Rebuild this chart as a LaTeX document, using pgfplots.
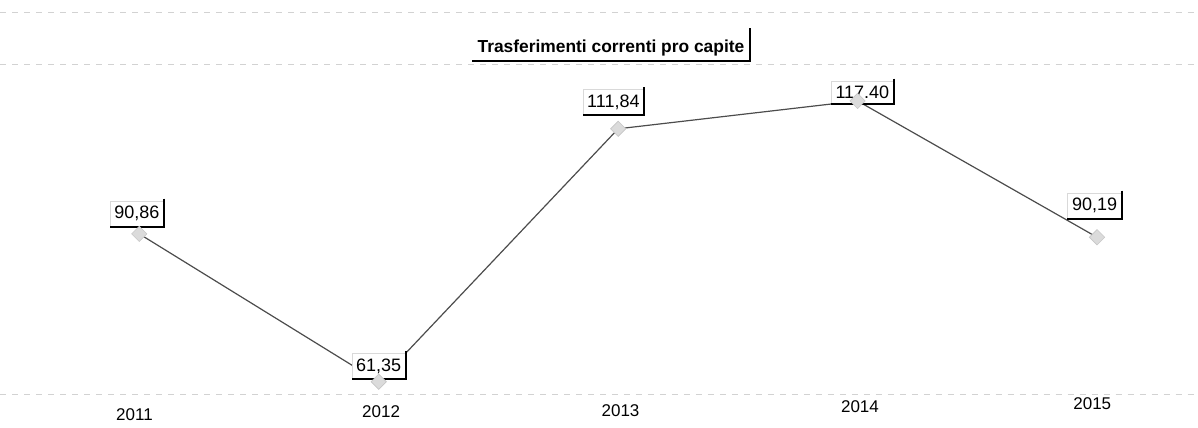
\documentclass[border=0pt]{standalone}
\usepackage{pgfplots}
\pgfplotsset{compat=1.18}
\usepackage{fontspec}
\setmainfont{Liberation Sans}
\begin{document}
\begin{tikzpicture}[
  vlab/.style={fill=white, draw=gray!30, line width=0.3pt, inner xsep=2.2pt, inner ysep=2.6pt, font=\fontsize{9}{10}\selectfont},
  ylab/.style={font=\fontsize{8.5}{9}\selectfont, inner sep=0pt}]
\begin{axis}[
  at={(0,0)}, anchor=south west,
  width=599pt, height=214pt, scale only axis,
  xmin=2010.42, xmax=2015.42,
  ymin=52.17, ymax=137.55,
  axis line style={draw=none},
  xtick=\empty,
  ytick={58.76,124.6,135.16}, yticklabels={},
  yticklabel style={overlay},
  major tick length=0pt,
  ymajorgrids, grid style={gray!35, dashed, line width=0.4pt},
  clip=false,
]
\addplot[color=black!70, line width=0.6pt, mark=square*, mark size=2.7pt,
  mark options={rotate=45, fill=gray!28, draw=gray!45, line width=0.3pt}]
  coordinates {(2011,90.86) (2012,61.35) (2013,111.84) (2014,117.40) (2015,90.19)};

% value labels
\node[vlab] (a) at (axis cs:2010.99,94.9) {90,86};
\node[vlab] (b) at (axis cs:2012.00,64.5) {61,35};
\node[vlab] (c) at (axis cs:2012.98,117.2) {111,84};
\node[vlab] (d) at (axis cs:2014.02,119.1) {117.40};
\node[vlab] (e) at (axis cs:2014.99,96.5) {90,19};
\draw[black, line width=1pt] ([yshift=1pt]a.north east) -- (a.south east) -- (a.south west);
\draw[black, line width=1pt] ([yshift=1pt]b.north east) -- (b.south east) -- (b.south west);
\draw[black, line width=1pt] ([yshift=1pt]c.north east) -- (c.south east) -- (c.south west);
\draw[black, line width=1pt] ([yshift=1pt]d.north east) -- (d.south east) -- (d.south west);
\draw[black, line width=1pt] ([yshift=1pt]e.north east) -- (e.south east) -- (e.south west);

% title
\node[fill=white, inner xsep=2.5pt, inner ysep=2.5pt, font=\bfseries\fontsize{8.7}{10}\selectfont] (t) at (axis cs:2012.97,128.0) {Trasferimenti correnti pro capite};
\draw[black, line width=1pt] ([yshift=3pt]t.north east) -- (t.south east) -- (t.south west);

% year labels
\node[ylab] at (axis cs:2010.98,54.77) {2011};
\node[ylab] at (axis cs:2012.01,55.37) {2012};
\node[ylab] at (axis cs:2013.01,55.57) {2013};
\node[ylab] at (axis cs:2014.01,56.36) {2014};
\node[ylab] at (axis cs:2014.98,56.96) {2015};
\end{axis}
\end{tikzpicture}
\end{document}
